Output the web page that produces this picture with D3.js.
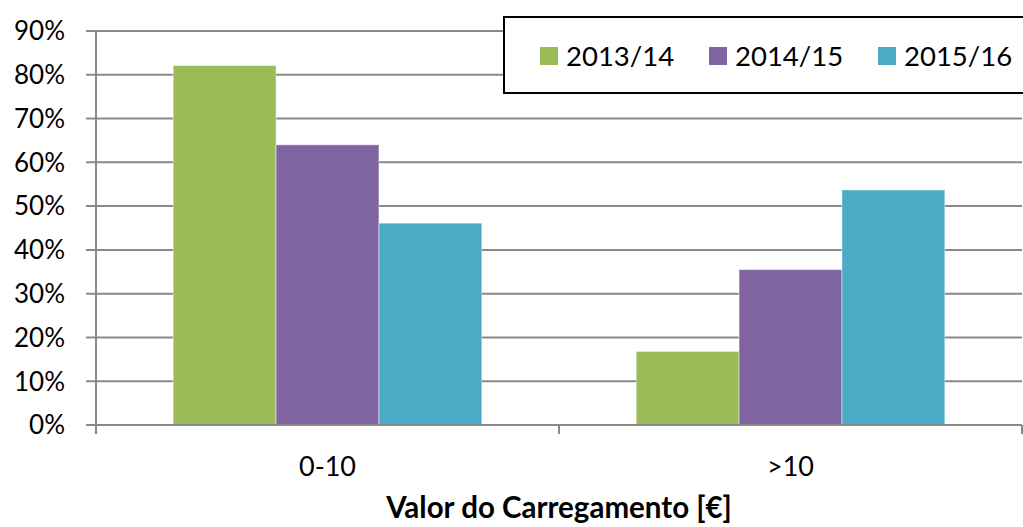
<!DOCTYPE html>
<meta charset="utf-8">
<html>
<head>
	<script src="https://cdn.jsdelivr.net/npm/d3@7/dist/d3.min.js"></script>
	<style>
		body { margin: 0; background: #fff; }
		svg text { font-family: Lato, "Open Sans", sans-serif; fill: #000; }
	</style>
</head>
<body>
	<svg id="chart"></svg>
	<script>
		// chart data
		var categories = ["0-10", ">10"];
		var seriesNames = ["2013/14", "2014/15", "2015/16"];
		var seriesColors = ["#9BBB59", "#8064A2", "#4BACC6"];
		var values2013 = [82.1, 16.8];
		var values2014 = [64.0, 35.5];
		var values2015 = [46.1, 53.7];
		var yTicks = [0, 10, 20, 30, 40, 50, 60, 70, 80, 90];
		var xTitle = "Valor do Carregamento [€]";

		var svgWidth = 1023, svgHeight = 527;
		var margin = {top: 31, right: 1, bottom: 102, left: 96},
			graphWidth = svgWidth - margin.left - margin.right,
			graphHeight = svgHeight - margin.top - margin.bottom;

		var allSeries = [values2013, values2014, values2015];

		var svg = d3.select("#chart")
			.attr("width", svgWidth)
			.attr("height", svgHeight);

		var g = svg.append("g")
			.attr("transform", "translate(" + margin.left + "," + margin.top + ")");

		var x0 = d3.scaleBand()
			.domain(categories)
			.range([0, graphWidth]);

		// gap width 150% -> bars take 3/(3+1.5) of the band
		var x1 = d3.scaleBand()
			.domain(seriesNames)
			.range([0, x0.bandwidth() * 3 / 4.5]);

		var y = d3.scaleLinear()
			.domain([0, 90])
			.range([graphHeight, 0]);

		// gridlines + y ticks
		g.append("g")
			.selectAll("line")
			.data(yTicks)
			.enter()
			.append("line")
				.attr("x1", -10)
				.attr("x2", graphWidth)
				.attr("y1", function(d) { return y(d); })
				.attr("y2", function(d) { return y(d); })
				.attr("stroke", "#898989")
				.attr("stroke-width", 2);

		g.append("g")
			.selectAll("text")
			.data(yTicks)
			.enter()
			.append("text")
				.attr("x", -31)
				.attr("y", function(d) { return y(d); })
				.attr("dy", "0.36em")
				.attr("text-anchor", "end")
				.style("font-size", "26px")
				.text(function(d) { return d + "%"; });

		// bars
		var groups = g.append("g")
			.selectAll("g")
			.data(categories)
			.enter()
			.append("g")
				.attr("transform", function(d) {
					return "translate(" + (x0(d) + (x0.bandwidth() - x1.range()[1]) / 2) + ",0)";
				});

		groups.selectAll("rect")
			.data(function(d, i) {
				return seriesNames.map(function(s, k) { return {name: s, value: allSeries[k][i], color: seriesColors[k]}; });
			})
			.enter()
			.append("rect")
				.attr("x", function(d) { return x1(d.name); })
				.attr("width", x1.bandwidth())
				.attr("y", function(d) { return y(d.value); })
				.attr("height", function(d) { return y(0) - y(d.value); })
				.attr("fill", function(d) { return d.color; })
				.attr("stroke", "rgba(255,255,255,0.45)")
				.attr("stroke-width", 1);

		// axis lines
		g.append("line")
			.attr("x1", 0).attr("x2", 0)
			.attr("y1", 0).attr("y2", graphHeight + 9)
			.attr("stroke", "#898989")
			.attr("stroke-width", 2);

		g.append("line")
			.attr("x1", -10).attr("x2", graphWidth)
			.attr("y1", graphHeight).attr("y2", graphHeight)
			.attr("stroke", "#898989")
			.attr("stroke-width", 2);

		var xTickPos = categories.map(function(c) { return x0(c); }).concat([graphWidth]);
		g.append("g")
			.selectAll("line")
			.data(xTickPos)
			.enter()
			.append("line")
				.attr("x1", function(d) { return d; })
				.attr("x2", function(d) { return d; })
				.attr("y1", graphHeight)
				.attr("y2", graphHeight + 9)
				.attr("stroke", "#898989")
				.attr("stroke-width", 2);

		// category labels
		g.append("g")
			.selectAll("text")
			.data(categories)
			.enter()
			.append("text")
				.attr("x", function(d) { return x0(d) + x0.bandwidth() / 2; })
				.attr("y", graphHeight + 51)
				.attr("text-anchor", "middle")
				.style("font-size", "27px")
				.text(function(d) { return d; });

		// axis title
		g.append("text")
			.attr("x", graphWidth / 2)
			.attr("y", graphHeight + 93)
			.attr("text-anchor", "middle")
			.style("font-size", "29.5px")
			.style("font-weight", "bold")
			.text(xTitle);

		// legend
		var legend = svg.append("g");
		legend.append("rect")
			.attr("x", 504)
			.attr("y", 17)
			.attr("width", 540)
			.attr("height", 76)
			.attr("fill", "#fff")
			.attr("stroke", "#000")
			.attr("stroke-width", 2);

		var legendX = [540, 709, 878];
		var items = legend.selectAll(".item")
			.data(seriesNames)
			.enter()
			.append("g")
				.attr("class", "item")
				.attr("transform", function(d, i) { return "translate(" + legendX[i] + ",47)"; });

		items.append("rect")
			.attr("width", 18)
			.attr("height", 18)
			.attr("fill", function(d, i) { return seriesColors[i]; });

		items.append("text")
			.attr("x", 26)
			.attr("y", 19)
			.style("font-size", "27.5px")
			.text(function(d) { return d; });
	</script>
</body>
</html>
